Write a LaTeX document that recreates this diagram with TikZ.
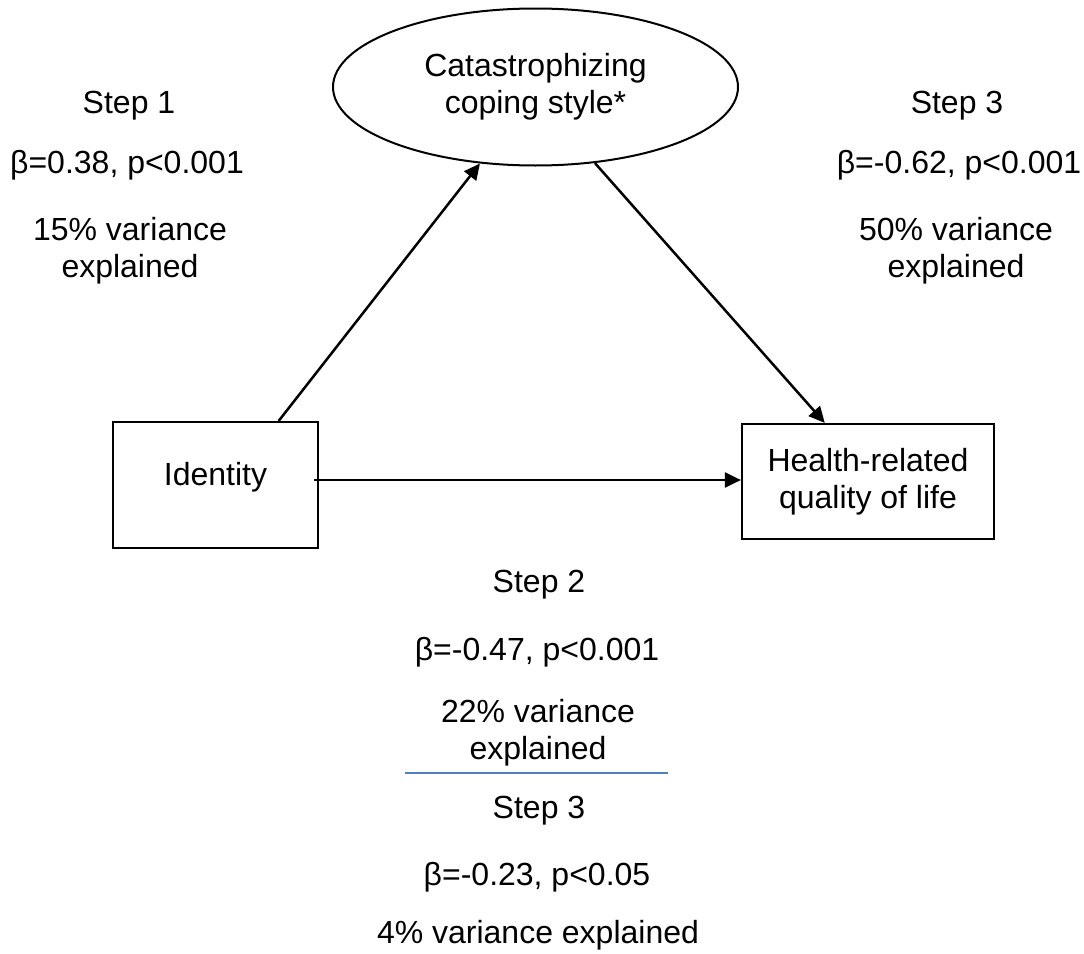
\documentclass[tikz,border=0pt]{standalone}
\usepackage{fontspec}
\setmainfont{Liberation Sans}
\usepackage{xcolor}
\usetikzlibrary{positioning,arrows.meta,shapes.geometric,calc}
\definecolor{sepclr}{RGB}{79,129,189}
\tikzset{
  var/.style={rectangle,draw,line width=2.2pt,align=center,inner sep=2pt},
  med/.style={ellipse,draw,line width=2pt,align=center,inner sep=0pt,
              minimum width=405pt,minimum height=157pt},
  path/.style={-{Triangle[length=16pt,width=15pt]},line width=2.5pt},
  txt/.style={align=center,inner sep=0pt},
  bline/.style={inner sep=0pt,anchor=base},
}
\begin{document}
\begin{tikzpicture}[x=1pt,y=-1pt,
    every node/.style={font=\fontsize{32}{37}\selectfont},
]
\useasboundingbox (0,0) rectangle (1084,953);
% variables
\node[med] (cat) at (535.5,87) {Catastrophizing\\coping style*};
\node[var,minimum width=205pt,minimum height=126pt,
      text height=23pt,text depth=23pt] (ident) at (215.5,485) {Identity};
\node[var,minimum width=252pt,minimum height=115pt] (health) at (868,481.5) {Health-related\\quality of life};
% paths
\coordinate (identtop) at ($(ident.north west)!0.805!(ident.north east)$);
\coordinate (healthtop) at ($(health.north west)!0.33!(health.north east)$);
\draw[path] (identtop) -- (cat.234);
\draw[path] (cat.-52.6) -- (healthtop);
\coordinate (direct) at ([xshift=-5pt,yshift=5pt]ident.east);
\draw[path] (direct) -- (direct -| health.west);
% step 1
\node[bline] (s1a) at (129,113) {Step 1};
\node[bline] (s1b) at (127,173) {β=0.38, p<0.001};
\node[txt] (s1c) at (130,251) {15\% variance\\explained};
% step 3 (mediator)
\node[bline] (s3a) at (957,113) {Step 3};
\node[bline] (s3b) at (959,173) {β=-0.62, p<0.001};
\node[txt] (s3c) at (956,251) {50\% variance\\explained};
% step 2 / step 3 (direct)
\node[bline] (s2a) at (539,592) {Step 2};
\node[bline] (s2b) at (537,660) {β=-0.47, p<0.001};
\node[txt] (s2c) at (538,733) {22\% variance\\explained};
\coordinate (sepl) at (405,773);
\coordinate (sepr) at (668,773);
\draw[sepclr,line width=2pt] (sepl) -- (sepr);
\node[bline] (s4a) at (539,818) {Step 3};
\node[bline] (s4b) at (537,885) {β=-0.23, p<0.05};
\node[bline] (s4c) at (538,943) {4\% variance explained};
\end{tikzpicture}
\end{document}
